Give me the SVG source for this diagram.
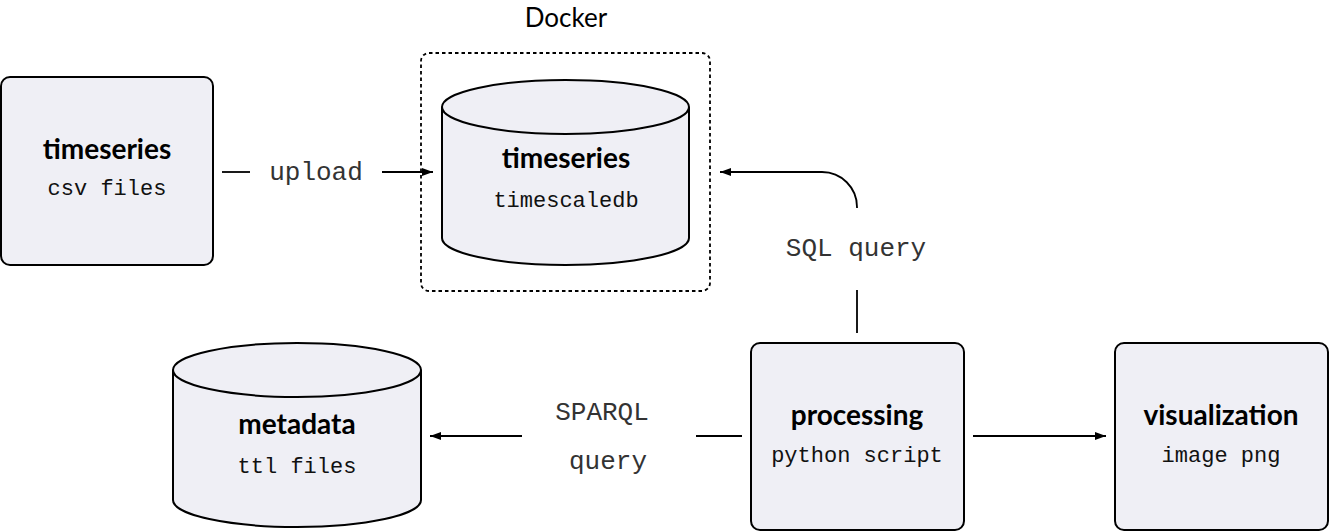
<svg xmlns="http://www.w3.org/2000/svg" width="1329" height="532" viewBox="0 0 1329 532">
<style>
.node{fill:#efeff5;stroke:#000;stroke-width:2}
.bold{font-family:Lato,"DejaVu Sans",sans-serif;font-weight:bold;font-size:28px;fill:#000;text-anchor:middle}
.mono{font-family:"Liberation Mono",monospace;font-size:22px;fill:#111;text-anchor:middle}
.lbl{font-family:"Liberation Mono",monospace;font-size:26px;fill:#333;text-anchor:middle}
.edge{fill:none;stroke:#000;stroke-width:1.8}
</style>
<defs>
<marker id="arr" markerUnits="userSpaceOnUse" markerWidth="12" markerHeight="10" viewBox="0 0 12 10" refX="11" refY="5" orient="auto">
<path d="M0,1 L11,5 L0,9 Z" fill="#000"/>
</marker>
</defs>
<g id="docker">
<rect x="421" y="53" width="289" height="238" rx="8" fill="none" stroke="#000" stroke-width="1.8" stroke-dasharray="3.5,3"/>
<text x="566" y="27" style="font-family:Lato,sans-serif;font-size:26px;text-anchor:middle">Docker</text>
</g>
<g id="csv">
<rect class="node" x="1" y="77" width="212" height="188" rx="9"/>
<text class="bold" x="107" y="159">timeseries</text>
<text class="mono" x="107" y="195">csv files</text>
</g>
<g id="tsdb">
<path class="node" d="M442,107 L442,238 A123.5,27 0 0 0 689,238 L689,107"/>
<ellipse class="node" cx="565.5" cy="107" rx="123.5" ry="27"/>
<text class="bold" x="566" y="168">timeseries</text>
<text class="mono" x="566" y="207">timescaledb</text>
</g>
<g id="metadata">
<path class="node" d="M173,370 L173,500 A124,27 0 0 0 421,500 L421,370"/>
<ellipse class="node" cx="297" cy="370" rx="124" ry="27"/>
<text class="bold" x="297" y="434">metadata</text>
<text class="mono" x="297" y="473">ttl files</text>
</g>
<g id="processing">
<rect class="node" x="751" y="343" width="213" height="187" rx="9"/>
<text class="bold" x="857" y="425">processing</text>
<text class="mono" x="857" y="462">python script</text>
</g>
<g id="visualization">
<rect class="node" x="1115" y="343" width="213" height="187" rx="9"/>
<text class="bold" x="1221" y="425">visualization</text>
<text class="mono" x="1221" y="462">image png</text>
</g>
<g id="connectors">
<line class="edge" x1="222" y1="172" x2="250" y2="172"/>
<line class="edge" x1="382" y1="172" x2="433" y2="172" marker-end="url(#arr)"/>
<text class="lbl" x="316" y="180">upload</text>
<line class="edge" x1="857" y1="333" x2="857" y2="290"/>
<path class="edge" d="M857,208 L857,207 A35,35 0 0 0 822,172 L720,172" marker-end="url(#arr)"/>
<text class="lbl" x="856" y="256">SQL query</text>
<line class="edge" x1="742" y1="436" x2="696" y2="436"/>
<line class="edge" x1="522" y1="436" x2="430" y2="436" marker-end="url(#arr)"/>
<text class="lbl" x="602" y="420">SPARQL</text>
<text class="lbl" x="608" y="469">query</text>
<line class="edge" x1="973" y1="436" x2="1106" y2="436" marker-end="url(#arr)"/>
</g>
</svg>
